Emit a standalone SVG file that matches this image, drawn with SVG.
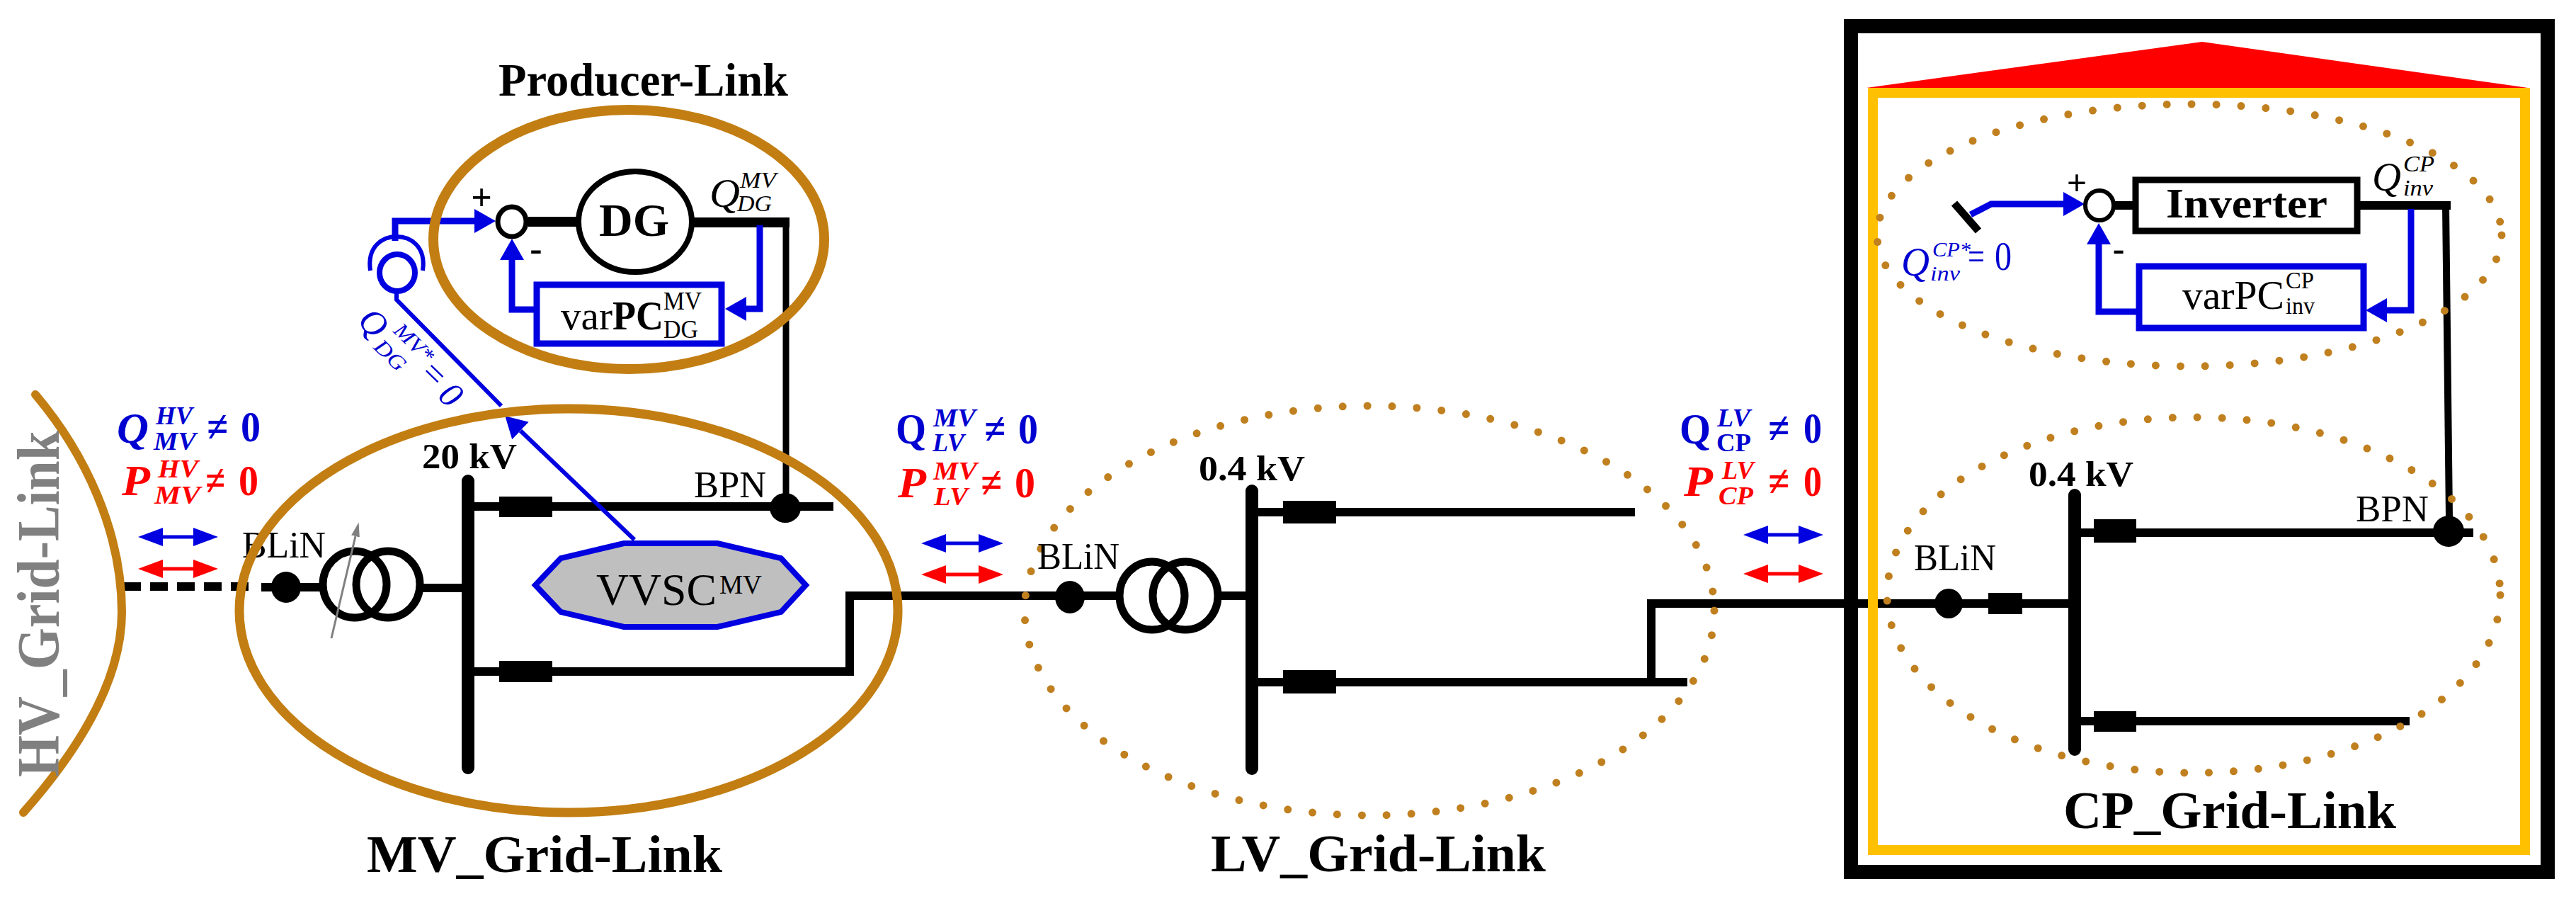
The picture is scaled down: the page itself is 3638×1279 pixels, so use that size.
<svg xmlns="http://www.w3.org/2000/svg" width="3638" height="1279" viewBox="0 0 3638 1279">
<style>
text{font-family:"Liberation Serif","Times New Roman",serif;fill:#000}
.b{font-weight:bold}.i{font-style:italic}
.blue{fill:#0000d0}.red{fill:#f00}
.big{font-size:62px}.sm{font-size:36px}.lab{font-size:52px}.kv{font-size:50px;font-weight:bold}.ttl{font-size:74px;font-weight:bold}
.pw{fill:none;stroke:#000;stroke-width:12}
.bus{fill:none;stroke:#000;stroke-width:18;stroke-linecap:round}
.ctl{fill:none;stroke:#0000e0;stroke-width:9}
.flow{fill:none;stroke-width:5}
.ring{fill:none;stroke:#c27e12;stroke-width:13}
.dots{fill:none;stroke:#c0801f;stroke-width:11;stroke-linecap:round;stroke-dasharray:0 35}
.brk{fill:#000}.dot{fill:#000}
.coil{fill:none;stroke:#000;stroke-width:11}
</style>
<defs>
<marker id="hb" markerUnits="userSpaceOnUse" markerWidth="36" markerHeight="28" refX="0" refY="14" orient="auto-start-reverse"><path d="M0 1L35 14L0 27Z" fill="#0000e0"/></marker>
<marker id="hr" markerUnits="userSpaceOnUse" markerWidth="36" markerHeight="28" refX="0" refY="14" orient="auto-start-reverse"><path d="M0 1L35 14L0 27Z" fill="#f00"/></marker>
<marker id="hc" markerUnits="userSpaceOnUse" markerWidth="32" markerHeight="36" refX="0" refY="18" orient="auto"><path d="M0 1L30 18L0 35Z" fill="#0000e0"/></marker>
<marker id="hg" markerUnits="userSpaceOnUse" markerWidth="22" markerHeight="16" refX="0" refY="8" orient="auto"><path d="M0 2L20 8L0 14Z" fill="#808080"/></marker>
</defs>
<rect width="3638" height="1279" fill="#fff"/>
<g id="connectors">
<path class="pw" stroke-dasharray="25 13" d="M174 828H352"/>
<path class="pw" d="M369 829H452M595 830H661"/>
<path class="pw" d="M661 715H1177M661 948H1200V841H1577M1724 841H1768"/>
<path class="pw" d="M1768 723H2309M1768 963H2383M2332 963V852H2930"/>
<path class="pw" d="M2930 752H3493M2930 1018H3403"/>
<path class="pw" style="stroke-width:9" d="M1110 314V717"/>
<path class="pw" style="stroke-width:14" d="M746 313H815M980 314H1115"/>
<path class="pw" d="M2986 290H3012M3333 290H3461"/>
<path class="pw" style="stroke-width:10" d="M3454 290L3459 730"/>
<path class="ctl" d="M558 340V312H670" marker-end="url(#hc)"/>
<path class="ctl" d="M754 437H723V367" marker-end="url(#hc)"/>
<path class="ctl" d="M1073 318V436H1054" marker-end="url(#hc)"/>
<path class="ctl" style="stroke-width:6" d="M896 762L735 608" marker-end="url(#hc)"/>
<path class="ctl" style="stroke-width:6" d="M560 412V423L708 573"/>
<path class="ctl" d="M2783 303L2812 288H2914" marker-end="url(#hc)"/>
<path class="ctl" d="M3017 440H2964V345" marker-end="url(#hc)"/>
<path class="ctl" d="M3405 295V438H3371" marker-end="url(#hc)"/>
<path class="flow" stroke="#0000e0" d="M230 758H273" marker-start="url(#hb)" marker-end="url(#hb)"/>
<path class="flow" stroke="#f00" d="M230 803H273" marker-start="url(#hr)" marker-end="url(#hr)"/>
<path class="flow" stroke="#0000e0" d="M1336 767H1382" marker-start="url(#hb)" marker-end="url(#hb)"/>
<path class="flow" stroke="#f00" d="M1336 811H1382" marker-start="url(#hr)" marker-end="url(#hr)"/>
<path class="flow" stroke="#0000e0" d="M2497 755H2540" marker-start="url(#hb)" marker-end="url(#hb)"/>
<path class="flow" stroke="#f00" d="M2497 810H2540" marker-start="url(#hr)" marker-end="url(#hr)"/>
</g>
<g id="cp-building">
<path fill="#f00" d="M2636 124L3110 59L3570 124Z"/>
<rect x="2614" y="37" width="984" height="1194" fill="none" stroke="#000" stroke-width="20"/>
<rect x="2645" y="131" width="921" height="1069" fill="none" stroke="#ffc000" stroke-width="14"/>
</g>
<g id="hv-grid-link">
<path d="M50 557C120 640 172 750 172 864C172 960 110 1060 33 1147" fill="none" stroke="#c27e12" stroke-width="12" stroke-linecap="round"/>
<text class="b" font-size="84" style="fill:#808080" transform="translate(83 1097) rotate(-90)" textLength="489" lengthAdjust="spacingAndGlyphs">HV_Grid-Link</text>
</g>
<g id="bus-mv">
<path class="bus" d="M661 679V1084"/>
<rect class="brk" x="705" y="701" width="75" height="29"/><rect class="brk" x="705" y="933" width="75" height="30"/>
<ellipse class="dot" cx="404" cy="829" rx="21" ry="22"/><ellipse class="dot" cx="1109" cy="717" rx="22" ry="21"/>
<ellipse class="coil" cx="501" cy="825" rx="45" ry="47"/><ellipse class="coil" cx="548" cy="825" rx="45" ry="47"/>
<path d="M468 901L502 757" stroke="#808080" stroke-width="3" fill="none" marker-end="url(#hg)"/>
<text class="kv" x="596" y="661" textLength="134" lengthAdjust="spacingAndGlyphs">20 kV</text>
<text class="lab" x="342" y="787" textLength="118" lengthAdjust="spacingAndGlyphs">BLiN</text>
<text class="lab" x="980" y="702" textLength="102" lengthAdjust="spacingAndGlyphs">BPN</text>
</g>
<g id="vvsc">
<polygon points="756,826 792,788 881,767 1013,767 1103,788 1138,826 1103,864 1013,885 881,885 792,864" fill="#bfbfbf" stroke="#0000e0" stroke-width="8"/>
<text x="842" y="854" font-size="64" textLength="170" lengthAdjust="spacingAndGlyphs">VVSC</text>
<text x="1016" y="838" font-size="38" textLength="60" lengthAdjust="spacingAndGlyphs">MV</text>
</g>
<g id="mv-grid-link">
<ellipse class="ring" cx="803" cy="862" rx="465" ry="285"/>
<text class="ttl" x="518" y="1231" textLength="502" lengthAdjust="spacingAndGlyphs">MV_Grid-Link</text>
</g>
<g id="producer-link">
<ellipse class="ring" style="stroke-width:14" cx="888" cy="338" rx="276" ry="183"/>
<text class="b" font-size="66" x="704" y="135" textLength="409" lengthAdjust="spacingAndGlyphs">Producer-Link</text>
<ellipse cx="897" cy="313" rx="80" ry="71" fill="#fff" stroke="#000" stroke-width="8"/>
<text class="b" font-size="66" x="846" y="333" textLength="99" lengthAdjust="spacingAndGlyphs">DG</text>
<ellipse cx="723" cy="313" rx="20" ry="21" fill="#fff" stroke="#000" stroke-width="7"/>
<text class="b" font-size="52" x="680" y="296" text-anchor="middle">+</text>
<text class="b" font-size="52" x="757" y="368" text-anchor="middle">-</text>
<rect x="758" y="402" width="261" height="83" fill="#fff" stroke="#0000e0" stroke-width="9"/>
<text font-size="58" x="792" y="465" textLength="73" lengthAdjust="spacingAndGlyphs">var</text>
<text class="b" font-size="58" x="865" y="465" textLength="72" lengthAdjust="spacingAndGlyphs">PC</text>
<text class="sm" x="937" y="437" textLength="54" lengthAdjust="spacingAndGlyphs">MV</text>
<text class="sm" x="937" y="477" textLength="49" lengthAdjust="spacingAndGlyphs">DG</text>
<text class="i" font-size="56" x="1002" y="292" textLength="43" lengthAdjust="spacingAndGlyphs">Q</text>
<text class="i" font-size="32" x="1045" y="265" textLength="51" lengthAdjust="spacingAndGlyphs">MV</text>
<text class="i" font-size="32" x="1041" y="298" textLength="49" lengthAdjust="spacingAndGlyphs">DG</text>
</g>
<g id="setpoint-mv">
<ellipse cx="561" cy="385" rx="25" ry="26" fill="none" stroke="#0000e0" stroke-width="8"/>
<path d="M523 382C518 348 540 334 560 334C580 334 602 348 597 382" fill="none" stroke="#0000e0" stroke-width="6"/>
<g transform="translate(503 455) rotate(44)">
<text class="i blue" font-size="50" x="0" y="0">Q</text>
<text class="i blue" font-size="30" x="46" y="-26" textLength="66" lengthAdjust="spacingAndGlyphs">MV*</text>
<text class="i blue" font-size="30" x="42" y="10" textLength="50" lengthAdjust="spacingAndGlyphs">DG</text>
<text class="blue" font-size="50" x="116" y="-8">=</text>
<text class="blue i" font-size="50" x="155" y="-3">0</text>
</g>
</g>
<g id="lv-grid-link">
<path class="bus" d="M1768 693V1085"/>
<rect class="brk" x="1812" y="707" width="75" height="32"/><rect class="brk" x="1812" y="946" width="75" height="33"/>
<ellipse class="dot" cx="1511" cy="843" rx="21" ry="23"/>
<ellipse class="coil" cx="1627" cy="841" rx="46" ry="48"/><ellipse class="coil" cx="1674" cy="841" rx="46" ry="48"/>
<ellipse class="dots" cx="1934" cy="862" rx="487" ry="289"/>
<text class="kv" x="1693" y="678" textLength="150" lengthAdjust="spacingAndGlyphs">0.4 kV</text>
<text class="lab" x="1465" y="803" textLength="116" lengthAdjust="spacingAndGlyphs">BLiN</text>
<text class="ttl" x="1710" y="1230" textLength="473" lengthAdjust="spacingAndGlyphs">LV_Grid-Link</text>
</g>
<g id="cp-grid-link">
<path class="bus" d="M2930 699V1058"/>
<rect class="brk" x="2957" y="733" width="60" height="33"/><rect class="brk" x="2957" y="1004" width="60" height="29"/>
<rect class="brk" x="2808" y="837" width="48" height="30"/>
<ellipse class="dot" cx="2752" cy="852" rx="20" ry="21"/><ellipse class="dot" cx="3458" cy="750" rx="22" ry="22"/>
<ellipse class="dots" cx="3098" cy="840" rx="433" ry="251"/>
<text class="kv" x="2865" y="686" textLength="148" lengthAdjust="spacingAndGlyphs">0.4 kV</text>
<text class="lab" x="2703" y="805" textLength="116" lengthAdjust="spacingAndGlyphs">BLiN</text>
<text class="lab" x="3327" y="736" textLength="103" lengthAdjust="spacingAndGlyphs">BPN</text>
<text class="ttl" x="2914" y="1169" textLength="470" lengthAdjust="spacingAndGlyphs">CP_Grid-Link</text>
</g>
<g id="inverter-link">
<ellipse class="dots" cx="3092" cy="332" rx="441" ry="185"/>
<path d="M2760 287L2794 326" stroke="#000" stroke-width="11" fill="none"/>
<ellipse cx="2965" cy="290" rx="20" ry="21" fill="#fff" stroke="#000" stroke-width="6"/>
<text class="b" font-size="50" x="2933" y="275" text-anchor="middle">+</text>
<text class="b" font-size="50" x="2992" y="368" text-anchor="middle">-</text>
<rect x="3016" y="254" width="313" height="72" fill="#fff" stroke="#000" stroke-width="9"/>
<text class="b" font-size="60" x="3059" y="307" textLength="228" lengthAdjust="spacingAndGlyphs">Inverter</text>
<rect x="3021" y="376" width="317" height="87" fill="#fff" stroke="#0000e0" stroke-width="9"/>
<text font-size="58" x="3082" y="436" textLength="144" lengthAdjust="spacingAndGlyphs">varPC</text>
<text font-size="34" x="3228" y="407" textLength="40" lengthAdjust="spacingAndGlyphs">CP</text>
<text font-size="34" x="3228" y="443" textLength="41" lengthAdjust="spacingAndGlyphs">inv</text>
<text class="i" font-size="56" x="3350" y="269" textLength="41" lengthAdjust="spacingAndGlyphs">Q</text>
<text class="i" font-size="32" x="3394" y="242" textLength="44" lengthAdjust="spacingAndGlyphs">CP</text>
<text class="i" font-size="32" x="3394" y="276" textLength="42" lengthAdjust="spacingAndGlyphs">inv</text>
<text class="i blue" font-size="56" x="2685" y="389" textLength="40" lengthAdjust="spacingAndGlyphs">Q</text>
<text class="i blue" font-size="30" x="2729" y="362" textLength="54" lengthAdjust="spacingAndGlyphs">CP*</text>
<text class="i blue" font-size="30" x="2726" y="396" textLength="42" lengthAdjust="spacingAndGlyphs">inv</text>
<text class="blue" font-size="56" x="2779" y="381" textLength="24" lengthAdjust="spacingAndGlyphs">=</text>
<text class="blue" font-size="56" x="2817" y="381" textLength="24" lengthAdjust="spacingAndGlyphs">0</text>
</g>
<g id="flow-labels">
<text class="big i b blue" x="165" y="625" textLength="45" lengthAdjust="spacingAndGlyphs">Q</text>
<text class="sm b i blue" x="220" y="599" textLength="52" lengthAdjust="spacingAndGlyphs">HV</text>
<text class="sm b i blue" x="217" y="635" textLength="60" lengthAdjust="spacingAndGlyphs">MV</text>
<text class="big b blue" x="292" y="623" textLength="30" lengthAdjust="spacingAndGlyphs">≠</text>
<text class="big b blue" x="340" y="623" textLength="28" lengthAdjust="spacingAndGlyphs">0</text>
<text class="big b i red" x="172" y="699" textLength="40" lengthAdjust="spacingAndGlyphs">P</text>
<text class="sm b i red" x="223" y="674" textLength="57" lengthAdjust="spacingAndGlyphs">HV</text>
<text class="sm b i red" x="218" y="711" textLength="65" lengthAdjust="spacingAndGlyphs">MV</text>
<text class="big b red" x="290" y="699" textLength="28" lengthAdjust="spacingAndGlyphs">≠</text>
<text class="big b red" x="337" y="699" textLength="28" lengthAdjust="spacingAndGlyphs">0</text>
<text class="big b blue" x="1265" y="626" textLength="43" lengthAdjust="spacingAndGlyphs">Q</text>
<text class="sm b i blue" x="1318" y="602" textLength="60" lengthAdjust="spacingAndGlyphs">MV</text>
<text class="sm b i blue" x="1317" y="637" textLength="45" lengthAdjust="spacingAndGlyphs">LV</text>
<text class="big b blue" x="1390" y="626" textLength="30" lengthAdjust="spacingAndGlyphs">≠</text>
<text class="big b blue" x="1438" y="626" textLength="28" lengthAdjust="spacingAndGlyphs">0</text>
<text class="big b i red" x="1268" y="702" textLength="40" lengthAdjust="spacingAndGlyphs">P</text>
<text class="sm b i red" x="1318" y="677" textLength="62" lengthAdjust="spacingAndGlyphs">MV</text>
<text class="sm b i red" x="1319" y="713" textLength="48" lengthAdjust="spacingAndGlyphs">LV</text>
<text class="big b red" x="1385" y="702" textLength="30" lengthAdjust="spacingAndGlyphs">≠</text>
<text class="big b red" x="1433" y="702" textLength="29" lengthAdjust="spacingAndGlyphs">0</text>
<text class="big b blue" x="2372" y="626" textLength="44" lengthAdjust="spacingAndGlyphs">Q</text>
<text class="sm b i blue" x="2425" y="602" textLength="47" lengthAdjust="spacingAndGlyphs">LV</text>
<text class="sm b blue" x="2424" y="637" textLength="49" lengthAdjust="spacingAndGlyphs">CP</text>
<text class="big b blue" x="2497" y="625" textLength="30" lengthAdjust="spacingAndGlyphs">≠</text>
<text class="big b blue" x="2547" y="625" textLength="26" lengthAdjust="spacingAndGlyphs">0</text>
<text class="big b i red" x="2378" y="700" textLength="41" lengthAdjust="spacingAndGlyphs">P</text>
<text class="sm b i red" x="2432" y="676" textLength="45" lengthAdjust="spacingAndGlyphs">LV</text>
<text class="sm b i red" x="2427" y="712" textLength="49" lengthAdjust="spacingAndGlyphs">CP</text>
<text class="big b red" x="2497" y="700" textLength="30" lengthAdjust="spacingAndGlyphs">≠</text>
<text class="big b red" x="2547" y="700" textLength="26" lengthAdjust="spacingAndGlyphs">0</text>
</g>
</svg>
